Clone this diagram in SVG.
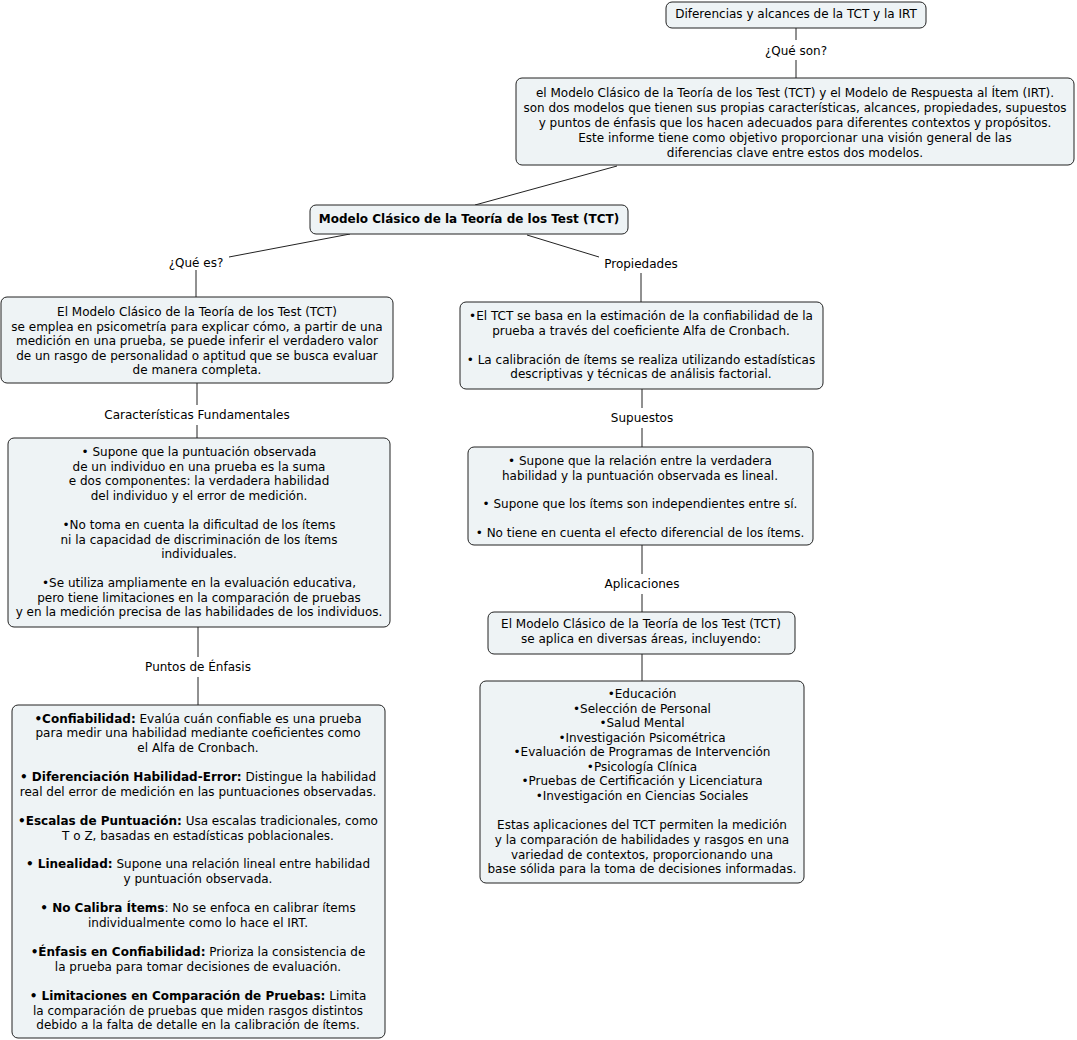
<svg xmlns="http://www.w3.org/2000/svg" width="1077" height="1040" viewBox="0 0 1077 1040">
<style>
.box{fill:#eef3f5;stroke:#222;stroke-width:1}
text{font-family:"DejaVu Sans",Verdana,sans-serif;font-size:12px;fill:#000;text-anchor:middle}
.b{font-weight:bold}
.conn line{stroke:#222;stroke-width:1}
</style>
<rect width="1077" height="1040" fill="#fff"/>
<g class="conn">
<line x1="796" y1="28" x2="796" y2="40"/>
<line x1="796" y1="60" x2="796" y2="78"/>
<line x1="617" y1="166" x2="475" y2="205"/>
<line x1="350" y1="234" x2="229" y2="257"/>
<line x1="196" y1="270" x2="196" y2="297"/>
<line x1="527" y1="235" x2="599" y2="257"/>
<line x1="641" y1="273" x2="641" y2="302"/>
<line x1="197" y1="383" x2="197" y2="405"/>
<line x1="197" y1="425" x2="197" y2="438"/>
<line x1="198" y1="627" x2="198" y2="657"/>
<line x1="198" y1="677" x2="198" y2="705"/>
<line x1="642" y1="389" x2="642" y2="408"/>
<line x1="642" y1="428" x2="642" y2="447"/>
<line x1="642" y1="545" x2="642" y2="574"/>
<line x1="642" y1="594" x2="642" y2="612"/>
<line x1="642" y1="654" x2="642" y2="681"/>
<text x="796" y="55">¿Qué son?</text>
<text x="196" y="267">¿Qué es?</text>
<text x="641" y="268">Propiedades</text>
<text x="197" y="419">Características Fundamentales</text>
<text x="198" y="671">Puntos de Énfasis</text>
<text x="642" y="422">Supuestos</text>
<text x="642" y="588">Aplicaciones</text>
</g>
<g id="n1">
<rect class="box" x="666" y="2" width="260" height="26" rx="6"/>
<text x="796" y="18">Diferencias y alcances de la TCT y la IRT</text>
</g>
<g id="n2">
<rect class="box" x="516" y="78" width="558" height="87" rx="6"/>
<text x="795" y="97">el Modelo Clásico de la Teoría de los Test (TCT) y el Modelo de Respuesta al Ítem (IRT).</text>
<text x="795" y="112">son dos modelos que tienen sus propias características, alcances, propiedades, supuestos</text>
<text x="795" y="127">y puntos de énfasis que los hacen adecuados para diferentes contextos y propósitos.</text>
<text x="795" y="142">Este informe tiene como objetivo proporcionar una visión general de las</text>
<text x="795" y="157">diferencias clave entre estos dos modelos.</text>
</g>
<g id="n3">
<rect class="box" x="310" y="205" width="318" height="29" rx="6"/>
<text class="b" x="469" y="223">Modelo Clásico de la Teoría de los Test (TCT)</text>
</g>
<g id="n4">
<rect class="box" x="1" y="297" width="392" height="86" rx="6"/>
<text x="197" y="316">El Modelo Clásico de la Teoría de los Test (TCT)</text>
<text x="197" y="330.5">se emplea en psicometría para explicar cómo, a partir de una</text>
<text x="197" y="345">medición en una prueba, se puede inferir el verdadero valor</text>
<text x="197" y="359.5">de un rasgo de personalidad o aptitud que se busca evaluar</text>
<text x="197" y="374">de manera completa.</text>
</g>
<g id="n5">
<rect class="box" x="8" y="438" width="382" height="189" rx="6"/>
<text x="199" y="456">• Supone que la puntuación observada</text>
<text x="199" y="471">de un individuo en una prueba es la suma</text>
<text x="199" y="485">e dos componentes: la verdadera habilidad</text>
<text x="199" y="500">del individuo y el error de medición.</text>
<text x="199" y="529">•No toma en cuenta la dificultad de los ítems</text>
<text x="199" y="544">ni la capacidad de discriminación de los ítems</text>
<text x="199" y="558">individuales.</text>
<text x="199" y="587">•Se utiliza ampliamente en la evaluación educativa,</text>
<text x="199" y="602">pero tiene limitaciones en la comparación de pruebas</text>
<text x="199" y="616">y en la medición precisa de las habilidades de los individuos.</text>
</g>
<g id="n6">
<rect class="box" x="12" y="705" width="373" height="333" rx="6"/>
<text x="198" y="723"><tspan class="b">•Confiabilidad:</tspan> Evalúa cuán confiable es una prueba</text>
<text x="198" y="737">para medir una habilidad mediante coeficientes como</text>
<text x="198" y="752">el Alfa de Cronbach.</text>
<text x="198" y="781"><tspan class="b">• Diferenciación Habilidad-Error:</tspan> Distingue la habilidad</text>
<text x="198" y="796">real del error de medición en las puntuaciones observadas.</text>
<text x="198" y="825"><tspan class="b">•Escalas de Puntuación:</tspan> Usa escalas tradicionales, como</text>
<text x="198" y="840">T o Z, basadas en estadísticas poblacionales.</text>
<text x="198" y="868"><tspan class="b">• Linealidad:</tspan> Supone una relación lineal entre habilidad</text>
<text x="198" y="883">y puntuación observada.</text>
<text x="198" y="912"><tspan class="b">• No Calibra Ítems</tspan>: No se enfoca en calibrar ítems</text>
<text x="198" y="927">individualmente como lo hace el IRT.</text>
<text x="198" y="956"><tspan class="b">•Énfasis en Confiabilidad:</tspan> Prioriza la consistencia de</text>
<text x="198" y="971">la prueba para tomar decisiones de evaluación.</text>
<text x="198" y="1000"><tspan class="b">• Limitaciones en Comparación de Pruebas:</tspan> Limita</text>
<text x="198" y="1015">la comparación de pruebas que miden rasgos distintos</text>
<text x="198" y="1029">debido a la falta de detalle en la calibración de ítems.</text>
</g>
<g id="n7">
<rect class="box" x="460" y="302" width="363" height="87" rx="6"/>
<text x="641" y="320">•El TCT se basa en la estimación de la confiabilidad de la</text>
<text x="641" y="335">prueba a través del coeficiente Alfa de Cronbach.</text>
<text x="641" y="364">• La calibración de ítems se realiza utilizando estadísticas</text>
<text x="641" y="378">descriptivas y técnicas de análisis factorial.</text>
</g>
<g id="n8">
<rect class="box" x="468" y="447" width="345" height="98" rx="6"/>
<text x="640" y="465">• Supone que la relación entre la verdadera</text>
<text x="640" y="480">habilidad y la puntuación observada es lineal.</text>
<text x="640" y="508">• Supone que los ítems son independientes entre sí.</text>
<text x="640" y="537">• No tiene en cuenta el efecto diferencial de los ítems.</text>
</g>
<g id="n9">
<rect class="box" x="488" y="612" width="307" height="42" rx="6"/>
<text x="641" y="628">El Modelo Clásico de la Teoría de los Test (TCT)</text>
<text x="641" y="643">se aplica en diversas áreas, incluyendo:</text>
</g>
<g id="n10">
<rect class="box" x="480" y="681" width="324" height="202" rx="6"/>
<text x="642" y="698">•Educación</text>
<text x="642" y="713">•Selección de Personal</text>
<text x="642" y="727">•Salud Mental</text>
<text x="642" y="742">•Investigación Psicométrica</text>
<text x="642" y="756">•Evaluación de Programas de Intervención</text>
<text x="642" y="771">•Psicología Clínica</text>
<text x="642" y="785">•Pruebas de Certificación y Licenciatura</text>
<text x="642" y="800">•Investigación en Ciencias Sociales</text>
<text x="642" y="829">Estas aplicaciones del TCT permiten la medición</text>
<text x="642" y="844">y la comparación de habilidades y rasgos en una</text>
<text x="642" y="859">variedad de contextos, proporcionando una</text>
<text x="642" y="873">base sólida para la toma de decisiones informadas.</text>
</g>
</svg>
